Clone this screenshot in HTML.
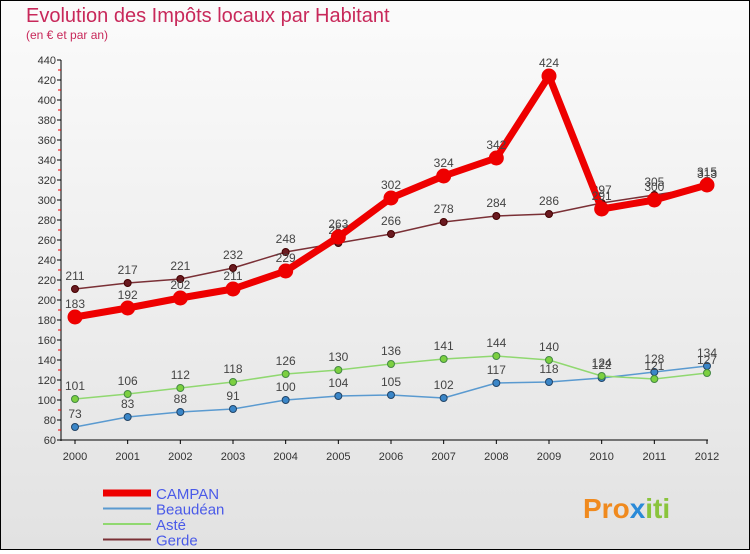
<!DOCTYPE html>
<html><head><meta charset="utf-8"><style>
body{margin:0}
#c{width:748px;height:548px;border:1px solid #000;position:relative;background:linear-gradient(#fbfbfb,#e2e2e2);font-family:"Liberation Sans","DejaVu Sans",sans-serif}
</style></head><body>
<div id="c">
<svg id="s" width="748" height="548" xmlns="http://www.w3.org/2000/svg">
<text x="25" y="21" font-size="20" fill="#c8285a">Evolution des Impôts locaux par Habitant</text>
<text x="25" y="38" font-size="12" fill="#c8285a">(en € et par an)</text>
<g id="axes"></g><g id="series"></g><g id="legend"></g>
<text x="582" y="517" font-size="28" font-weight="bold" fill="#f08a1e">Pro<tspan fill="#2a8ad8">x</tspan><tspan fill="#8ac43c">iti</tspan></text>
</svg></div>
<script>
const years=[2000,2001,2002,2003,2004,2005,2006,2007,2008,2009,2010,2011,2012];
const campan=[183,192,202,211,229,263,302,324,342,424,291,300,315];
const gerde=[211,217,221,232,248,257,266,278,284,286,297,305,313];
const beaudean=[73,83,88,91,100,104,105,102,117,118,122,128,134];
const aste=[101,106,112,118,126,130,136,141,144,140,124,121,127];
const yTicks=[60,80,100,120,140,160,180,200,220,240,260,280,300,320,340,360,380,400,420,440];
const NS="http://www.w3.org/2000/svg";
const X=i=>74+i*(632/12), Y=v=>499-v;
function mk(p,t,a){const e=document.createElementNS(NS,t);for(const k in a)e.setAttribute(k,a[k]);p.appendChild(e);return e;}
const ax=document.getElementById('axes');
let e=mk(ax,'line',{x1:60,y1:Y(440),x2:60,y2:Y(60)+1,stroke:'#000'});

e=mk(ax,'line',{x1:60,y1:Y(60),x2:707,y2:Y(60),stroke:'#000'});

yTicks.forEach(v=>{mk(ax,'line',{x1:56,y1:Y(v),x2:60,y2:Y(v),stroke:'#000'});
if(v<440)mk(ax,'line',{x1:57,y1:Y(v+10),x2:60,y2:Y(v+10),stroke:'#e00'});
const t=mk(ax,'text',{x:55,y:Y(v)+4,'font-size':11,'text-anchor':'end',fill:'#333'});t.textContent=v;
});
years.forEach((y,i)=>{mk(ax,'line',{x1:X(i),y1:Y(60),x2:X(i),y2:Y(60)+4,stroke:'#000'});
const t=mk(ax,'text',{x:X(i),y:Y(60)+20,'font-size':11,'text-anchor':'middle',fill:'#333'});t.textContent=y;
});
const sg=document.getElementById('series');
function series(name,vals,col,w,r,dot,dotStroke){
const g=mk(sg,'g',{});
mk(g,'polyline',{points:vals.map((v,i)=>X(i)+','+Y(v)).join(' '),fill:'none',stroke:col,'stroke-width':w,'stroke-linejoin':'round'});
vals.forEach((v,i)=>{const c=mk(g,'circle',{cx:X(i),cy:Y(v),r:r,fill:dot,stroke:dotStroke,'stroke-width':1});

const t=mk(g,'text',{x:X(i),y:Y(v)-9,'font-size':12,'text-anchor':'middle',fill:'#444'});t.textContent=v;
});}
series('beaudean',beaudean,'#5a9ad0',1.5,3.5,'#3a86c8','#246');
series('aste',aste,'#90d870',1.5,3.5,'#7cd040','#484');
series('gerde',gerde,'#7a3036',1.5,3.5,'#6a1a20','#400');
series('campan',campan,'#ee0000',7,7,'#ee0000','#ee0000');
const lg=document.getElementById('legend');
[['CAMPAN','#ee0000',7],['Beaudéan','#5a9ad0',2],['Asté','#90d870',2],['Gerde','#7a3036',2]].forEach((d,i)=>{
const y=492+i*15.5;const g=mk(lg,'g',{});
mk(g,'line',{x1:102,y1:y,x2:150,y2:y,stroke:d[1],'stroke-width':d[2]});
const t=mk(g,'text',{x:155,y:y+6,'font-size':15,fill:'#4a5ae8'});t.textContent=d[0];});
</script></body></html>
